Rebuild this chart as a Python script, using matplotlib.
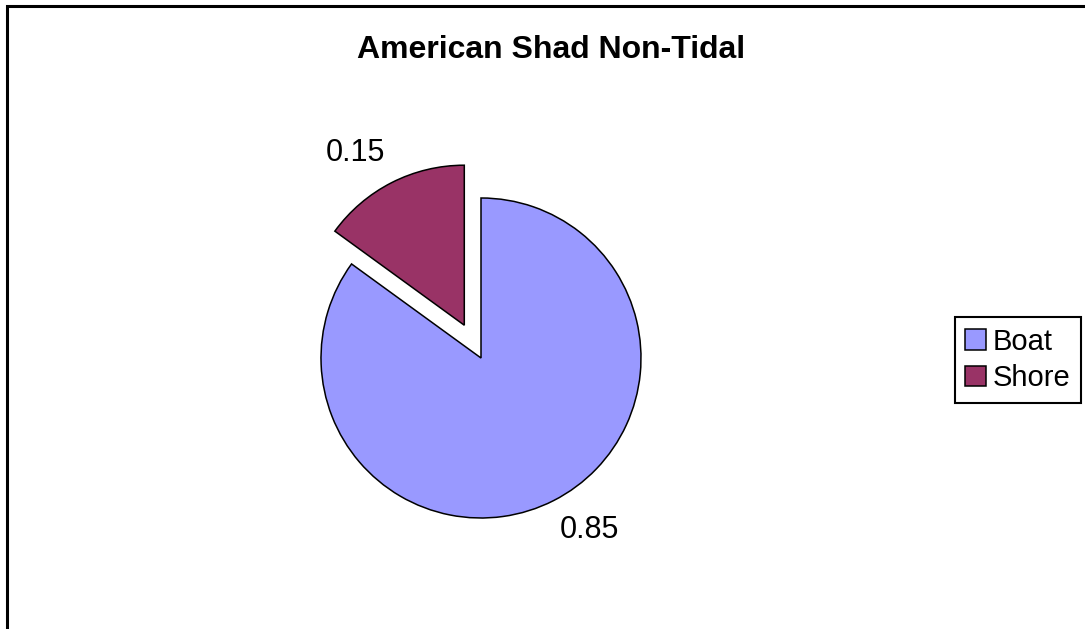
import matplotlib
matplotlib.use("Agg")
import numpy as np
import matplotlib.pyplot as plt
from matplotlib.patches import Rectangle

plt.rcParams['font.family'] = ['Liberation Sans', 'DejaVu Sans']

# data
categories = ['Boat', 'Shore']
shares = [0.85, 0.15]
value_labels = ['0.85', '0.15']
colors = ['#9999FF', '#993366']

W, H = 1085, 629
R = 160            # pie radius in pixels
CX, CY = 481, 271  # pie centre in pixels (y from bottom)
fig = plt.figure(figsize=(W / 100, H / 100), dpi=100)
ax = fig.add_axes([0, 0, 1, 1])

# explode is in data units, so scale by the radius
wedges, texts = ax.pie(
    shares, labels=value_labels, colors=colors,
    explode=[0, 0.23 * R], startangle=90, counterclock=False,
    center=(0, 0), radius=R, labeldistance=1.2,
    wedgeprops=dict(edgecolor='black', linewidth=1.1),
    textprops=dict(fontsize=22),
)
# Excel-like label spot: a bit closer horizontally than vertically
for w, t in zip(wedges, texts):
    mid = np.deg2rad((w.theta1 + w.theta2) / 2)
    cx, cy = w.center
    t.set_position((cx + 1.09 * R * np.cos(mid), cy + 1.21 * R * np.sin(mid)))
    t.set_ha('left' if np.cos(mid) > 0 else 'right')

ax.set_xlim(-CX, W - CX)
ax.set_ylim(-CY, H - CY)
ax.set_aspect('equal')
ax.axis('off')

fig.text(551 / W, 1 - 50 / H, 'American Shad Non-Tidal', ha='center', va='center',
         fontsize=23, fontweight='bold')

leg = ax.legend(wedges, categories, loc='center left', bbox_to_anchor=(955 / W, 1 - 360 / H),
                bbox_transform=fig.transFigure, fontsize=21, frameon=True, fancybox=False,
                edgecolor='black', framealpha=1, handlelength=0.7, handleheight=0.7,
                handletextpad=0.25, labelspacing=0.3, borderpad=0.35, borderaxespad=0)
leg.get_frame().set_linewidth(1.5)

# chart area border (left and top edges visible)
fig.patches.append(Rectangle((7 / W, -0.1), 1.2, 1 - 6 / H + 0.1, transform=fig.transFigure,
                             fill=False, edgecolor='black', linewidth=2.2))

fig.savefig('out.png', dpi=100)
